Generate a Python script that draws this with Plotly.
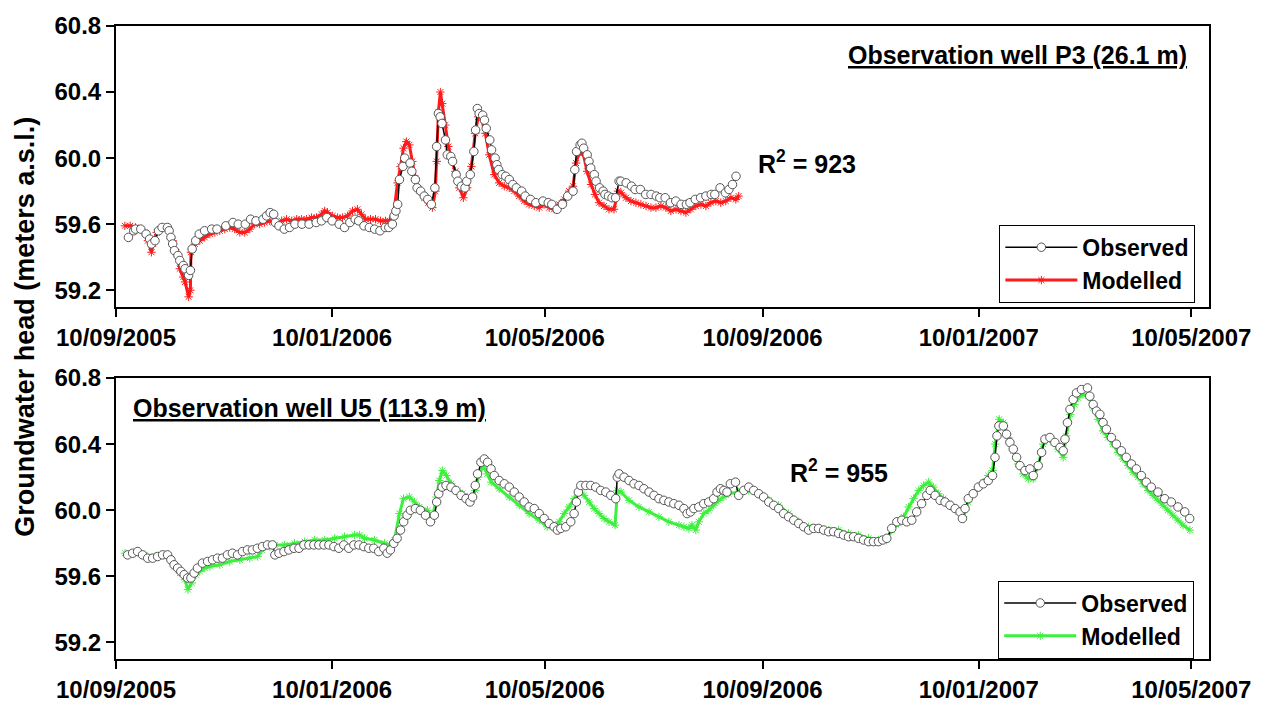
import pandas as pd
import plotly.graph_objects as go

START = pd.Timestamp("2005-09-10")

# ---------------- data (days since 10/09/2005, head in m a.s.l.) ----------------
p3_obs_days = [7, 10, 11, 14, 17, 19, 20, 22, 24, 26, 29, 30, 31, 32, 33, 35, 36, 38, 39, 41, 42, 43, 45, 47, 50, 54, 57, 62, 66, 69,
               73, 76, 79, 83, 85, 87, 89, 90, 92, 95, 98, 101, 105, 109, 113, 116, 119, 122, 126, 129, 132, 135, 137, 140, 143, 146, 149, 152, 154, 156,
               157, 158, 159, 160, 162, 163, 166, 167, 169, 170, 172, 174, 176, 178, 180, 181, 182, 183, 184, 186, 187, 189, 190, 192, 193, 195, 197, 198, 200, 202,
               203, 204, 205, 207, 208, 209, 211, 212, 214, 215, 216, 218, 220, 222, 224, 226, 229, 231, 234, 237, 241, 244, 246, 249, 252, 255, 258, 259, 260, 262,
               263, 264, 266, 267, 268, 270, 271, 273, 275, 276, 278, 280, 282, 284, 285, 288, 291, 293, 296, 299, 302, 305, 307, 310, 313, 316, 319, 322, 324, 327,
               330, 333, 336, 338, 341, 344, 346, 348, 350]
p3_obs_head = [59.52, 59.56, 59.57, 59.57, 59.54, 59.51, 59.48, 59.50, 59.56, 59.58, 59.58, 59.56, 59.52, 59.48, 59.44, 59.41, 59.38, 59.35, 59.33, 59.29, 59.32, 59.45, 59.50, 59.54, 59.56, 59.57, 59.57, 59.59, 59.61, 59.60,
               59.60, 59.63, 59.62, 59.63, 59.65, 59.67, 59.66, 59.61, 59.59, 59.57, 59.58, 59.60, 59.60, 59.60, 59.61, 59.62, 59.64, 59.62, 59.60, 59.58, 59.61, 59.63, 59.62, 59.59, 59.58, 59.57, 59.56, 59.58, 59.58, 59.60,
               59.65, 59.68, 59.72, 59.87, 59.95, 60.00, 59.97, 59.92, 59.87, 59.82, 59.80, 59.77, 59.75, 59.72, 59.82, 60.07, 60.27, 60.25, 60.21, 60.11, 60.02, 60.01, 59.98, 59.90, 59.86, 59.83, 59.82, 59.86, 59.90, 60.04,
               60.17, 60.30, 60.27, 60.26, 60.23, 60.18, 60.11, 60.05, 60.00, 59.96, 59.93, 59.90, 59.89, 59.87, 59.84, 59.82, 59.80, 59.77, 59.75, 59.73, 59.74, 59.73, 59.72, 59.69, 59.72, 59.77, 59.80, 59.93, 60.04, 60.08,
               60.09, 60.06, 60.02, 59.98, 59.94, 59.90, 59.86, 59.82, 59.80, 59.78, 59.77, 59.76, 59.76, 59.86, 59.86, 59.85, 59.83, 59.81, 59.81, 59.78, 59.78, 59.77, 59.76, 59.76, 59.73, 59.74, 59.72, 59.72, 59.73, 59.75,
               59.76, 59.77, 59.78, 59.78, 59.82, 59.79, 59.81, 59.84, 59.89]

p3_mod_days = [5, 8, 11, 14, 16, 18, 20, 21, 23, 25, 28, 30, 32, 34, 36, 38, 39, 41, 42, 42.3, 44.5, 47.3, 50.1, 53, 55.8, 58.6, 61.4, 64.2, 67, 69.9,
               72.7, 75.5, 78.3, 81.1, 83.9, 86.8, 89, 91.3, 93.5, 96.3, 99.2, 102, 104.8, 107.6, 110.4, 113.2, 116.1, 117.8, 119.4, 122.3, 125.1, 127.9, 130.7, 133.5, 136.3, 138.6, 140.9, 143.7, 146.5, 149.3,
               152.1, 154.4, 156.6, 158.9, 160.6, 162.3, 163.9, 165.6, 167.3, 169, 171.3, 174.1, 176.3, 178.6, 180.3, 181.1, 182, 183.1, 184.2, 185.9, 187.6, 189.3, 191.6, 193.8, 196.1, 198.3, 200.6, 202.8, 204.5, 206.2,
               208.5, 210.7, 213.5, 216.3, 219.2, 222, 224.8, 227.6, 230.4, 233.2, 236.1, 238.9, 241.7, 244.5, 247.3, 250.2, 253, 255.8, 258, 259.7, 261.4, 263.7, 265.9, 268.2, 270.4, 272.7, 275.5, 278.3, 281.1, 283.4,
               285.1, 287.9, 290.7, 293.5, 296.3, 299.2, 302, 304.8, 307.6, 310.4, 313.2, 316.1, 318.9, 321.7, 324.5, 327.3, 330.2, 333, 335.8, 338.6, 341.4, 344.2, 347.1, 349.9, 351.5]
p3_mod_head = [59.59, 59.59, 59.58, 59.57, 59.55, 59.50, 59.43, 59.48, 59.55, 59.57, 59.58, 59.56, 59.50, 59.43, 59.33, 59.28, 59.25, 59.16, 59.20, 59.43, 59.48, 59.50, 59.52, 59.54, 59.55, 59.56, 59.57, 59.58, 59.57, 59.55,
               59.55, 59.57, 59.60, 59.60, 59.61, 59.62, 59.61, 59.60, 59.62, 59.63, 59.62, 59.63, 59.63, 59.63, 59.64, 59.64, 59.66, 59.68, 59.67, 59.65, 59.64, 59.64, 59.65, 59.68, 59.69, 59.66, 59.63, 59.63, 59.63, 59.62,
               59.62, 59.62, 59.65, 59.85, 59.95, 60.06, 60.10, 60.08, 59.98, 59.88, 59.80, 59.76, 59.73, 59.70, 59.80, 59.98, 60.28, 60.40, 60.33, 60.20, 60.07, 60.00, 59.92, 59.82, 59.76, 59.82, 59.95, 60.15, 60.25, 60.24,
               60.15, 60.02, 59.90, 59.85, 59.83, 59.82, 59.80, 59.77, 59.74, 59.72, 59.71, 59.70, 59.72, 59.70, 59.69, 59.72, 59.75, 59.80, 59.83, 59.97, 60.03, 60.03, 59.92, 59.84, 59.78, 59.73, 59.71, 59.69, 59.69, 59.80,
               59.79, 59.76, 59.74, 59.73, 59.72, 59.71, 59.70, 59.70, 59.71, 59.70, 59.68, 59.69, 59.68, 59.67, 59.69, 59.71, 59.72, 59.71, 59.73, 59.74, 59.73, 59.74, 59.76, 59.75, 59.77]

u5_obs_days = [6.6, 9.4, 12.2, 15, 17.9, 20.7, 23.5, 26.3, 29.1, 31, 32.8, 34.8, 36.6, 38.5, 40.4, 42.3, 44.1, 46, 48.8, 51.7, 54.5, 57.3, 60.1, 62.9, 65.7, 68.6, 71.4, 74.2, 77, 79.8,
               82.7, 85.5, 88.3, 89.7, 92, 94.8, 97.6, 100.5, 103.3, 106.1, 108.9, 111.7, 114.5, 117.4, 120.2, 123, 125.8, 128.6, 131.4, 134.3, 137.1, 139.9, 142.7, 145.5, 148.3, 151.2, 153.1, 154.9, 156.8, 158.7,
               160.6, 162.4, 164.3, 166.2, 169, 171.8, 174.7, 177.5, 179.7, 181, 182.2, 184.1, 186.3, 189.1, 191.9, 194.8, 197.6, 199.8, 201.3, 202.8, 204.1, 206, 207.9, 209.8, 211.7, 213.5, 216.3, 219.2, 222, 224.8,
               227.6, 230.4, 233.2, 236.1, 238.9, 241.7, 244.5, 247.3, 249.2, 251.1, 253.9, 256.7, 258.6, 259.9, 261, 262.4, 265.2, 268, 270.8, 273.6, 276.5, 279.3, 282.1, 283, 284, 286.8, 289.6, 292.4, 295.2, 298,
               300.9, 303.7, 306.5, 309.3, 312.1, 314.9, 317.8, 320.6, 322.4, 324.3, 326.2, 329, 331.8, 334.6, 337.4, 339.3, 341.2, 343.1, 344.9, 346.8, 349.7, 351.5, 354.4, 357.2, 360, 362.8, 365.6, 368.5, 371.3, 374.1,
               376.9, 379.7, 382.6, 385.4, 388.2, 391, 393.8, 396.6, 399.5, 402.3, 405.1, 407.9, 410.7, 413.5, 416.4, 419.2, 422, 424.8, 427.6, 430.4, 432.8, 435.1, 437.9, 440.8, 443.6, 446.4, 449.2, 452, 454.8, 457.7,
               459.6, 462.4, 465.2, 468, 470.8, 473.7, 476.5, 477.8, 479.3, 481.1, 483.9, 486.8, 489.6, 492.4, 494.8, 496.2, 497.3, 498.4, 500.9, 502.7, 504.6, 506.5, 508.4, 510.3, 513.1, 515.9, 517.8, 520.6, 522.5, 524.4,
               527.2, 530, 532.9, 534.7, 535.7, 537.1, 538.5, 540.3, 542.2, 545, 548.4, 549.7, 551.6, 553.5, 555.4, 557.2, 559.1, 561.9, 564.7, 567.5, 570.3, 573.2, 576, 578.8, 581.6, 584.4, 588.2, 592, 595.7, 599.5,
               603.3, 606.1]
u5_obs_head = [59.73, 59.74, 59.75, 59.73, 59.71, 59.71, 59.72, 59.73, 59.73, 59.70, 59.67, 59.65, 59.63, 59.61, 59.59, 59.59, 59.62, 59.65, 59.68, 59.69, 59.70, 59.71, 59.71, 59.73, 59.74, 59.73, 59.75, 59.76, 59.76, 59.77,
               59.78, 59.79, 59.79, 59.73, 59.74, 59.75, 59.76, 59.77, 59.77, 59.79, 59.79, 59.79, 59.79, 59.79, 59.79, 59.78, 59.77, 59.79, 59.77, 59.79, 59.79, 59.78, 59.77, 59.77, 59.75, 59.77, 59.74, 59.76, 59.80, 59.83,
               59.88, 59.93, 59.97, 60.00, 60.01, 60.00, 59.97, 59.93, 59.97, 60.05, 60.10, 60.14, 60.15, 60.14, 60.12, 60.09, 60.07, 60.05, 60.08, 60.15, 60.22, 60.29, 60.31, 60.29, 60.25, 60.21, 60.18, 60.16, 60.14, 60.11,
               60.08, 60.05, 60.02, 60.01, 59.98, 59.95, 59.92, 59.90, 59.88, 59.89, 59.90, 59.93, 59.98, 60.05, 60.11, 60.15, 60.15, 60.15, 60.14, 60.12, 60.11, 60.09, 60.07, 60.20, 60.22, 60.20, 60.18, 60.16, 60.15, 60.13,
               60.11, 60.09, 60.07, 60.06, 60.05, 60.04, 60.03, 60.01, 59.98, 59.99, 60.01, 60.02, 60.04, 60.05, 60.07, 60.11, 60.13, 60.12, 60.11, 60.16, 60.17, 60.09, 60.12, 60.14, 60.12, 60.10, 60.08, 60.05, 60.03, 60.01,
               59.98, 59.96, 59.94, 59.92, 59.90, 59.88, 59.89, 59.89, 59.88, 59.87, 59.87, 59.86, 59.85, 59.84, 59.84, 59.83, 59.82, 59.81, 59.81, 59.81, 59.82, 59.83, 59.89, 59.93, 59.94, 59.93, 59.94, 59.99, 60.04, 60.09,
               60.12, 60.09, 60.06, 60.05, 60.03, 60.01, 59.99, 59.95, 60.01, 60.07, 60.10, 60.14, 60.16, 60.18, 60.21, 60.32, 60.45, 60.51, 60.51, 60.46, 60.41, 60.37, 60.32, 60.27, 60.24, 60.25, 60.21, 60.27, 60.35, 60.43,
               60.44, 60.41, 60.38, 60.36, 60.43, 60.53, 60.61, 60.67, 60.71, 60.73, 60.74, 60.69, 60.64, 60.60, 60.58, 60.53, 60.49, 60.44, 60.40, 60.36, 60.32, 60.28, 60.25, 60.21, 60.17, 60.14, 60.11, 60.07, 60.05, 60.02,
               59.99, 59.95]

u5_mod_days = [5.1, 10.7, 16.3, 22, 27.6, 30.4, 33.2, 36.1, 38.9, 40.6, 42.8, 45.1, 47.3, 50.1, 53, 58.6, 64.2, 69.9, 75.5, 80, 82.3, 86.8, 89.6, 95.2, 100.8, 106.5, 112.1, 117.8, 123.4, 129,
               134.7, 137.5, 140.3, 145.9, 151.6, 154.4, 157.2, 160, 162.3, 165.6, 168.5, 171.3, 175.8, 178.6, 180.9, 182.5, 184.2, 186.5, 189.3, 192.7, 195.5, 198.3, 200.6, 202.8, 204.5, 207.3, 209.6, 211.8, 216.3, 222,
               227.6, 233.2, 238.9, 243.4, 247.3, 250.2, 253, 255.8, 258.6, 261.4, 264.2, 267.1, 269.9, 272.7, 275.5, 278.3, 281.7, 283.1, 285.1, 289.6, 295.2, 300.9, 306.5, 312.1, 317.8, 320.6, 323.4, 325.1, 327.3, 329,
               331.8, 334.6, 337.4, 340.3, 343.1, 345.9, 351.5, 357.2, 362.8, 368.5, 374.1, 379.7, 385.4, 391, 396.6, 402.3, 407.9, 413.5, 419.2, 424.8, 430.4, 434.9, 437.9, 441.8, 444.6, 447.4, 450.2, 453.1, 455.9, 458.7,
               461.4, 464.2, 467.1, 469.9, 472.7, 475.5, 478.3, 481.1, 484, 486.8, 489.6, 492.4, 494.8, 496.3, 498.6, 500.9, 503.7, 506.5, 509.3, 512.1, 515, 517.8, 520.6, 523.4, 526.3, 529.1, 531.9, 534.7, 536.4, 538.7,
               541, 543.1, 545.9, 548.8, 551.6, 554.4, 557.2, 560, 562.8, 565.7, 568.5, 571.3, 574.1, 576.9, 579.7, 582.6, 585.4, 588.2, 591, 593.8, 596.6, 599.5, 602.3, 606.2]
u5_mod_head = [59.74, 59.74, 59.73, 59.72, 59.73, 59.71, 59.66, 59.62, 59.58, 59.52, 59.56, 59.61, 59.63, 59.65, 59.66, 59.67, 59.69, 59.70, 59.71, 59.72, 59.76, 59.78, 59.79, 59.79, 59.80, 59.81, 59.82, 59.82, 59.83, 59.84,
               59.85, 59.85, 59.83, 59.82, 59.80, 59.79, 59.82, 59.98, 60.07, 60.08, 60.05, 60.02, 60.00, 59.95, 60.08, 60.18, 60.24, 60.21, 60.16, 60.12, 60.10, 60.08, 60.07, 60.12, 60.20, 60.27, 60.22, 60.17, 60.13, 60.08,
               60.03, 59.98, 59.94, 59.90, 59.90, 59.93, 59.98, 60.02, 60.07, 60.12, 60.09, 60.05, 60.01, 59.98, 59.95, 59.93, 59.91, 60.12, 60.11, 60.06, 60.02, 59.99, 59.96, 59.93, 59.91, 59.90, 59.89, 59.91, 59.88, 59.93,
               59.98, 60.00, 60.03, 60.06, 60.08, 60.10, 60.11, 60.12, 60.10, 60.06, 60.03, 59.98, 59.93, 59.90, 59.89, 59.88, 59.88, 59.86, 59.85, 59.83, 59.82, 59.82, 59.88, 59.92, 59.96, 60.02, 60.07, 60.12, 60.15, 60.17,
               60.14, 60.10, 60.07, 60.04, 60.02, 59.99, 59.96, 60.05, 60.10, 60.14, 60.17, 60.21, 60.24, 60.40, 60.55, 60.53, 60.44, 60.36, 60.28, 60.22, 60.19, 60.19, 60.27, 60.40, 60.44, 60.41, 60.37, 60.32, 60.45, 60.58,
               60.64, 60.68, 60.70, 60.69, 60.62, 60.55, 60.48, 60.44, 60.40, 60.35, 60.31, 60.27, 60.23, 60.20, 60.16, 60.12, 60.09, 60.06, 60.03, 60.00, 59.97, 59.94, 59.91, 59.88]

tick_dates = ["2005-09-10", "2006-01-10", "2006-05-10", "2006-09-10", "2007-01-10", "2007-05-10"]
tick_labels = ["10/09/2005", "10/01/2006", "10/05/2006", "10/09/2006", "10/01/2007", "10/05/2007"]
y_ticks = [59.2, 59.6, 60.0, 60.4, 60.8]
y_tick_labels = ["59.2", "59.6", "60.0", "60.4", "60.8"]


def to_dates(days):
    return START + pd.to_timedelta(days, unit="D")


FONT = "Liberation Sans, Arial, sans-serif"
RED = "#ff1a1a"
GREEN = "#3ef03e"

fig = go.Figure()


def add_pair(obs_d, obs_h, mod_d, mod_h, mod_color, xa, ya, legend):
    fig.add_trace(go.Scatter(
        x=to_dates(mod_d), y=mod_h, mode="lines+markers", name="Modelled",
        line=dict(color=mod_color, width=3),
        marker=dict(symbol="asterisk-open", size=7, color=mod_color,
                    line=dict(color=mod_color, width=1)),
        xaxis=xa, yaxis=ya, legend=legend, legendrank=2))
    fig.add_trace(go.Scatter(
        x=to_dates(obs_d), y=obs_h, mode="lines+markers", name="Observed",
        line=dict(color="black", width=1.5),
        marker=dict(symbol="circle", size=8.5, color="white",
                    line=dict(color="#555555", width=1)),
        xaxis=xa, yaxis=ya, legend=legend, legendrank=1))


add_pair(p3_obs_days, p3_obs_head, p3_mod_days, p3_mod_head, RED, "x", "y", "legend")
add_pair(u5_obs_days, u5_obs_head, u5_mod_days, u5_mod_head, GREEN, "x2", "y2", "legend2")

tickfont = dict(family=FONT, size=24, color="black", weight="bold")
xcommon = dict(type="date", range=["2005-09-10", "2007-05-20"], tickvals=tick_dates, ticktext=tick_labels,
               showline=True, linecolor="black", linewidth=2, mirror=True, ticks="outside",
               ticklen=8, tickwidth=2, tickcolor="black", showgrid=False, zeroline=False, tickfont=tickfont)
ycommon = dict(range=[59.1, 60.8], tickvals=y_ticks, ticktext=y_tick_labels,
               showline=True, linecolor="black", linewidth=2, mirror=True, ticks="outside",
               ticklen=8, tickwidth=2, tickcolor="black", showgrid=False, zeroline=False, tickfont=tickfont)

legend_common = dict(font=dict(family=FONT, size=23, color="black", weight="bold"),
                     bgcolor="white", bordercolor="black", borderwidth=1,
                     xanchor="right", yanchor="top", traceorder="normal", itemwidth=72)

ann_font = dict(family=FONT, size=25, color="black", weight="bold")

fig.update_layout(
    width=1263, height=715,
    margin=dict(l=116, r=50, t=23, b=41),
    paper_bgcolor="white", plot_bgcolor="white",
    xaxis=dict(domain=[0, 1], anchor="y", **xcommon),
    yaxis=dict(domain=[0.5565, 1.0], anchor="x", **ycommon),
    xaxis2=dict(domain=[0, 1], anchor="y2", **xcommon),
    yaxis2=dict(domain=[0.0, 0.4439], anchor="x2", **ycommon),
    legend=dict(x=0.9875, y=0.686, **legend_common),
    legend2=dict(x=0.9865, y=0.124, **legend_common),
    annotations=[
        dict(text="<u>Observation well P3 (26.1 m)</u>", xref="paper", yref="paper",
             x=(1193 - 116) / 1097, y=(674 - 53) / 651, xanchor="right", yanchor="middle", showarrow=False,
             font=ann_font),
        dict(text="R<sup>2</sup> = 923", xref="paper", yref="paper",
             x=(758 - 116) / 1097, y=(674 - 163) / 651, xanchor="left", yanchor="middle", showarrow=False,
             font=ann_font),
        dict(text="<u>Observation well U5 (113.9 m)</u>", xref="paper", yref="paper",
             x=(131 - 116) / 1097, y=(674 - 416) / 651, xanchor="left", yanchor="middle", showarrow=False,
             font=ann_font),
        dict(text="R<sup>2</sup> = 955", xref="paper", yref="paper",
             x=(790 - 116) / 1097, y=(674 - 481) / 651, xanchor="left", yanchor="middle", showarrow=False,
             font=ann_font),
        dict(text="Groundwater head (meters a.s.l.)", xref="paper", yref="paper",
             x=(25 - 116) / 1097, y=(674 - 332) / 651, xanchor="center", yanchor="middle",
             textangle=-90, showarrow=False,
             font=dict(family=FONT, size=27, color="black", weight="bold")),
    ],
)

fig.write_html("out.html")
